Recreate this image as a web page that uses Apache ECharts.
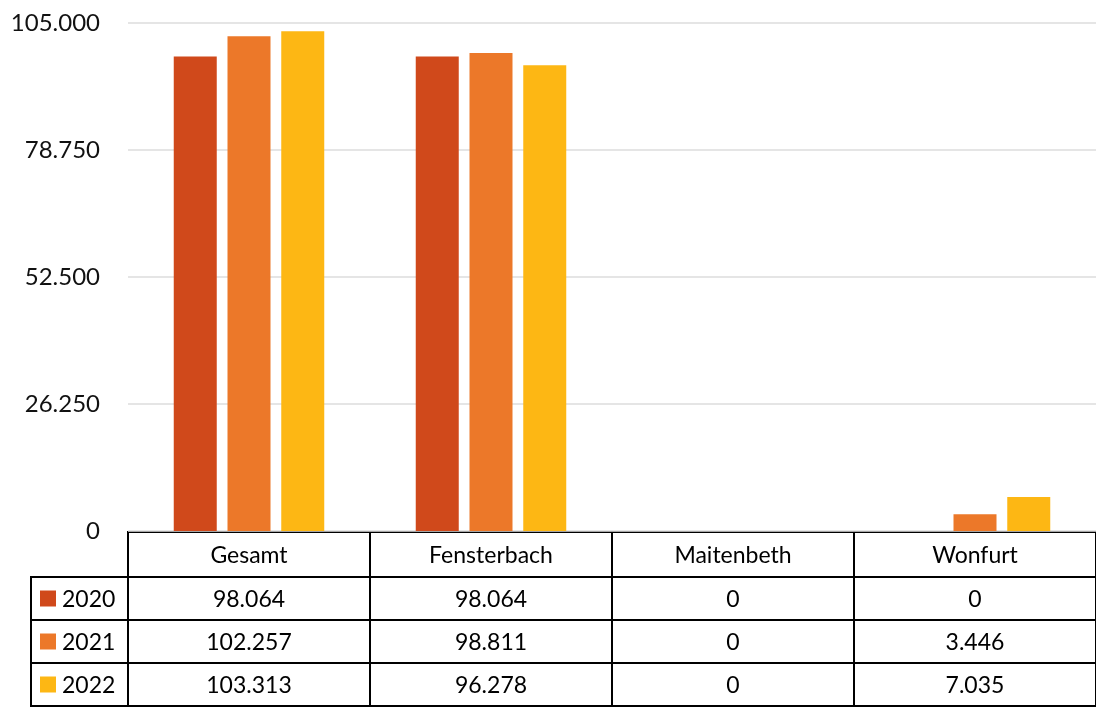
<!DOCTYPE html>
<html>
<head>
<meta charset="utf-8">
<script src="https://cdn.jsdelivr.net/npm/echarts@6/dist/echarts.min.js"></script>
<style>
  html, body { margin: 0; padding: 0; background: #fff; }
  #main { width: 1096px; height: 708px; }
</style>
</head>
<body>
<div id="main"></div>
<script>
var categories = ['Gesamt', 'Fensterbach', 'Maitenbeth', 'Wonfurt'];
var years = ['2020', '2021', '2022'];
var values2020 = [98064, 98064, 0, 0];
var values2021 = [102257, 98811, 0, 3446];
var values2022 = [103313, 96278, 0, 7035];
var colors = ['#D0491B', '#EC7829', '#FDB714'];
var yTicks = [0, 26250, 52500, 78750, 105000];

var allValues = [values2020, values2021, values2022];

function fmt(v) {
    return String(v).replace(/\B(?=(\d{3})+(?!\d))/g, '.');
}

var chart = echarts.init(document.getElementById('main'));

// layout of plot + table
var gridLeft = 128, gridTop = 23, gridBottom = 177;
var W = 1096;
var tableTop = 532, headH = 45, rowH = 43, rowHeadLeft = 31;
var colW = (W - gridLeft) / categories.length;
var font = 'Lato, "Open Sans", sans-serif';
var cellFont = '23px ' + font;

var graphics = [];
// header row
categories.forEach(function (c, i) {
    graphics.push({
        type: 'rect',
        shape: { x: gridLeft + i * colW, y: tableTop, width: colW, height: headH },
        style: { fill: 'none', stroke: '#000', lineWidth: 2 }
    });
    graphics.push({
        type: 'text',
        x: gridLeft + i * colW + colW / 2, y: tableTop + headH / 2 + 1,
        style: { text: c, fill: '#000', font: cellFont, textAlign: 'center', textVerticalAlign: 'middle' }
    });
});
// data rows
years.forEach(function (y, r) {
    var top = tableTop + headH + r * rowH;
    graphics.push({
        type: 'rect',
        shape: { x: rowHeadLeft, y: top, width: gridLeft - rowHeadLeft, height: rowH },
        style: { fill: 'none', stroke: '#000', lineWidth: 2 }
    });
    graphics.push({
        type: 'rect',
        shape: { x: 40, y: top + rowH / 2 - 8, width: 16, height: 16 },
        style: { fill: colors[r] }
    });
    graphics.push({
        type: 'text',
        x: 62, y: top + rowH / 2 + 1,
        style: { text: y, fill: '#000', font: cellFont, textAlign: 'left', textVerticalAlign: 'middle' }
    });
    categories.forEach(function (c, i) {
        graphics.push({
            type: 'rect',
            shape: { x: gridLeft + i * colW, y: top, width: colW, height: rowH },
            style: { fill: 'none', stroke: '#000', lineWidth: 2 }
        });
        graphics.push({
            type: 'text',
            x: gridLeft + i * colW + colW / 2, y: top + rowH / 2 + 1,
            style: { text: fmt(allValues[r][i]), fill: '#000', font: cellFont, textAlign: 'center', textVerticalAlign: 'middle' }
        });
    });
});

var option = {
    animation: false,
    backgroundColor: '#fff',
    grid: { left: gridLeft, right: 0, top: gridTop, bottom: gridBottom, containLabel: false },
    xAxis: {
        type: 'category',
        data: categories,
        axisLine: { show: false },
        axisTick: { show: false },
        axisLabel: { show: false }
    },
    yAxis: {
        type: 'value',
        min: yTicks[0],
        max: yTicks[yTicks.length - 1],
        interval: yTicks[1] - yTicks[0],
        axisLine: { show: false },
        axisTick: { show: false },
        splitLine: { lineStyle: { color: '#dcdcdc', width: 1.5 } },
        axisLabel: {
            margin: 28,
            color: '#111',
            fontSize: 24,
            fontFamily: font,
            formatter: function (v) { return fmt(v); }
        }
    },
    series: years.map(function (y, r) {
        return {
            name: y,
            type: 'bar',
            data: allValues[r],
            barWidth: 43,
            barGap: '25%',
            itemStyle: { color: colors[r] }
        };
    }),
    graphic: graphics
};

chart.setOption(option);
</script>
</body>
</html>
